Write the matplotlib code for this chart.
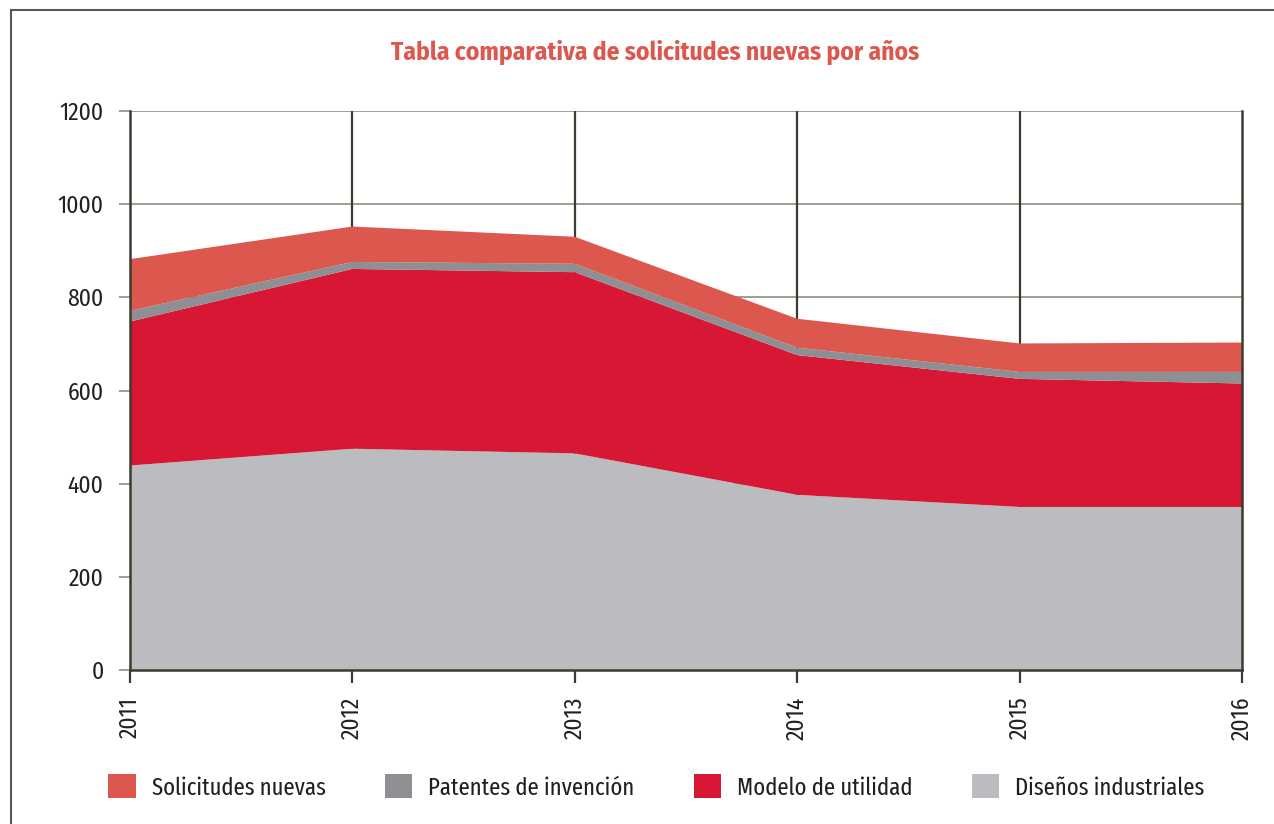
import matplotlib
matplotlib.use("Agg")
import matplotlib.pyplot as plt
from matplotlib.patches import Patch
from matplotlib.lines import Line2D

# Data
years = [2011, 2012, 2013, 2014, 2015, 2016]
disenos = [439, 475, 465, 376, 350, 350]
modelo = [309, 386, 389, 300, 275, 265]
patentes = [23, 15, 18, 16, 15, 25]
solicitudes = [111, 76, 58, 62, 61, 63]

labels = ["Diseños industriales", "Modelo de utilidad",
          "Patentes de invención", "Solicitudes nuevas"]
colors = ["#bbbcc0", "#d71733", "#8e8f92", "#dc574e"]

plt.rcParams['font.family'] = ['Fira Sans Condensed', 'Roboto Condensed', 'DejaVu Sans']
legend_family = ['Fira Sans Extra Condensed', 'Fira Sans Condensed', 'DejaVu Sans']
text_color = "#231f20"

fig = plt.figure(figsize=(12.74, 8.24), dpi=100)
ax = fig.add_axes([130 / 1274, 1 - 670 / 824, 1112 / 1274, 559 / 824])

# grid and vertical year lines behind the areas
for v in range(200, 1201, 200):
    ax.axhline(v, color="#8d8d80", lw=1.2, zorder=0)
for yr in years[1:-1]:
    ax.axvline(yr, color="#3d3b30", lw=1.6, zorder=0)

ax.stackplot(years, disenos, modelo, patentes, solicitudes,
             colors=colors, zorder=1, lw=0)

ax.set_xlim(years[0], years[-1])
ax.set_ylim(0, 1200)
ax.set_yticks(range(0, 1201, 200))
ax.set_xticks(years)
ax.set_xticklabels([str(y) for y in years], rotation=90)

for side in ["left", "bottom", "right"]:
    ax.spines[side].set_color("#3d3b30")
    ax.spines[side].set_linewidth(1.8)
    ax.spines[side].set_zorder(3)
ax.spines["top"].set_visible(False)

ax.tick_params(axis="y", length=8, width=1.2, color="#8d8d80",
               labelsize=17, labelcolor=text_color, pad=11)
ax.tick_params(axis="x", length=9, width=1.6, color="#3d3b30",
               labelsize=17, labelcolor=text_color, pad=10)

fig.text(0.514, 0.937, "Tabla comparativa de solicitudes nuevas por años",
         ha="center", va="center", fontsize=18.3, fontweight="bold",
         color="#dc574e")

handles = [Patch(facecolor=colors[i], edgecolor="none") for i in [3, 2, 1, 0]]
fig.legend(handles, [labels[i] for i in [3, 2, 1, 0]], ncol=4,
           loc="center left", bbox_to_anchor=(96 / 1274, 1 - 787 / 824),
           frameon=False, borderpad=0, handlelength=1.1, handleheight=1.1,
           handletextpad=0.65, columnspacing=2.4, labelcolor=text_color,
           prop={"family": legend_family, "size": 17.8})

# page frame at left and top
fig.add_artist(Line2D([11 / 1274, 11 / 1274], [0, 1 - 10 / 824],
                      transform=fig.transFigure, color="#5a5a4a", lw=1.5))
fig.add_artist(Line2D([11 / 1274, 1], [1 - 10 / 824, 1 - 10 / 824],
                      transform=fig.transFigure, color="#5a5a4a", lw=1.5))

fig.savefig("out.png", dpi=100)
